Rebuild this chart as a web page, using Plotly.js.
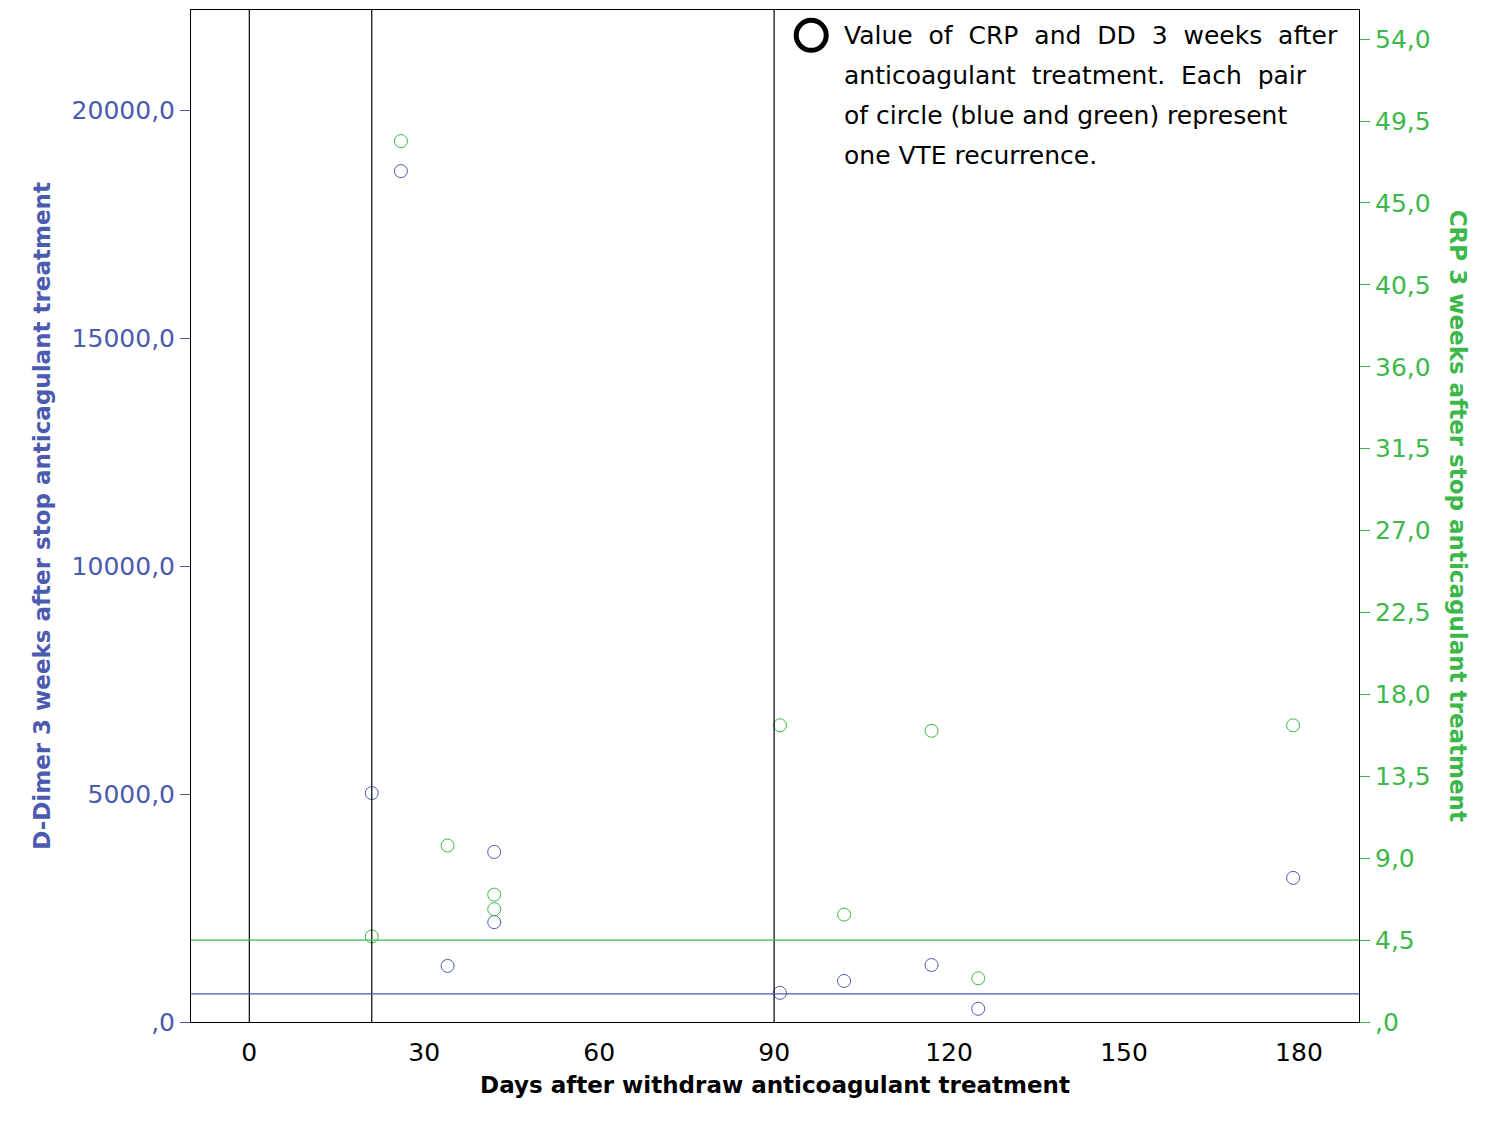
<!DOCTYPE html>
<html>
<head>
<meta charset="utf-8">
<script src="https://cdn.plot.ly/plotly-3.0.1.min.js"></script>
<style>body{margin:0;background:#fff}#chart{width:1500px;height:1125px}</style>
</head>
<body>
<div id="chart"></div>
<script>
// days after withdrawal, one entry per VTE recurrence (blue + green pair)
var days = [26, 21, 34, 42, 42, 91, 102, 117, 125, 179];
var dDimer = [18660, 5020, 1230, 3730, 2190, 640, 900, 1250, 290, 3160];
var crp = [48.4, 4.7, 9.7, 7.0, 6.2, 16.3, 5.9, 16.0, 2.4, 16.3];

var xTicks = [0, 30, 60, 90, 120, 150, 180];
var ddTicks = [0, 5000, 10000, 15000, 20000];
var ddTickText = [",0", "5000,0", "10000,0", "15000,0", "20000,0"];
var crpTicks = [0, 4.5, 9, 13.5, 18, 22.5, 27, 31.5, 36, 40.5, 45, 49.5, 54];
var crpTickText = [",0", "4,5", "9,0", "13,5", "18,0", "22,5", "27,0", "31,5", "36,0", "40,5", "45,0", "49,5", "54,0"];

var refDays = [0, 21, 90];
var ddCutoff = 615;
var crpCutoff = 4.5;

var legendLines = [
    "Value  of  CRP  and  DD  3  weeks  after",
    "anticoagulant  treatment.  Each  pair",
    "of circle (blue and green) represent",
    "one VTE recurrence."
];

var blue = "#4a5bb0";
var green = "#3cb84a";
var font = "DejaVu Sans, sans-serif";

var ddTrace = {
    x: days, y: dDimer, mode: "markers", type: "scatter", yaxis: "y",
    marker: {symbol: "circle-open", size: 13, color: blue, line: {width: 1}}
};
var crpTrace = {
    x: days, y: crp, mode: "markers", type: "scatter", yaxis: "y2",
    marker: {symbol: "circle-open", size: 13, color: green, line: {width: 1}}
};

var shapes = refDays.map(d => ({
    type: "line", xref: "x", yref: "paper", x0: d, x1: d, y0: 0, y1: 1,
    line: {color: "#000", width: 1.2}
}));
shapes.push({type: "line", xref: "paper", yref: "y", x0: 0, x1: 1, y0: ddCutoff, y1: ddCutoff, line: {color: blue, width: 1.2}});
shapes.push({type: "line", xref: "paper", yref: "y2", x0: 0, x1: 1, y0: crpCutoff, y1: crpCutoff, line: {color: green, width: 1.2}});
shapes.push({type: "circle", xref: "paper", yref: "paper", xsizemode: "pixel", ysizemode: "pixel",
    xanchor: 0.531, yanchor: 0.975, x0: -15, x1: 15, y0: -15, y1: 15, line: {color: "#000", width: 5}});

var annotations = legendLines.map((t, i) => ({
    xref: "paper", yref: "paper", x: 0.557, y: 0.975 - i * 0.0395, showarrow: false,
    xanchor: "left", yanchor: "middle", text: t, font: {family: font, size: 25, color: "#000"}
}));
annotations.push({
    xref: "paper", yref: "paper", x: 1.085, y: 0.5, showarrow: false, textangle: 90,
    xanchor: "center", yanchor: "middle",
    text: "<b>CRP 3 weeks after stop anticagulant treatment</b>", font: {family: font, size: 23, color: green}
});

var layout = {
    width: 1500, height: 1125, showlegend: false,
    paper_bgcolor: "#fff", plot_bgcolor: "#fff",
    font: {family: font, size: 24},
    margin: {l: 191, r: 141, t: 10, b: 103},
    xaxis: {
        range: [-10, 190.3], tickvals: xTicks, showgrid: false, zeroline: false,
        showline: true, linecolor: "#000", mirror: true, ticks: "outside", ticklen: 8, tickcolor: "rgba(0,0,0,0)",
        tickfont: {family: font, size: 25, color: "#000"},
        title: {text: "<b>Days after withdraw anticoagulant treatment</b>", font: {family: font, size: 23, color: "#000"}, standoff: 10}
    },
    yaxis: {
        range: [0, 22193], tickvals: ddTicks, ticktext: ddTickText, showgrid: false, zeroline: false,
        showline: true, linecolor: "#000", ticks: "outside", ticklen: 10, tickcolor: blue,
        tickfont: {family: font, size: 25, color: blue},
        title: {text: "<b>D-Dimer 3 weeks after stop anticagulant treatment</b>", font: {family: font, size: 23, color: blue}, standoff: 14}
    },
    yaxis2: {
        overlaying: "y", side: "right", range: [0, 55.6], tickvals: crpTicks, ticktext: crpTickText,
        showgrid: false, zeroline: false, showline: true, linecolor: "#000",
        ticks: "outside", ticklen: 10, tickcolor: green, tickfont: {family: font, size: 25, color: green}
    },
    shapes: shapes,
    annotations: annotations
};

Plotly.newPlot("chart", [ddTrace, crpTrace], layout, {displayModeBar: false});
</script>
</body>
</html>
